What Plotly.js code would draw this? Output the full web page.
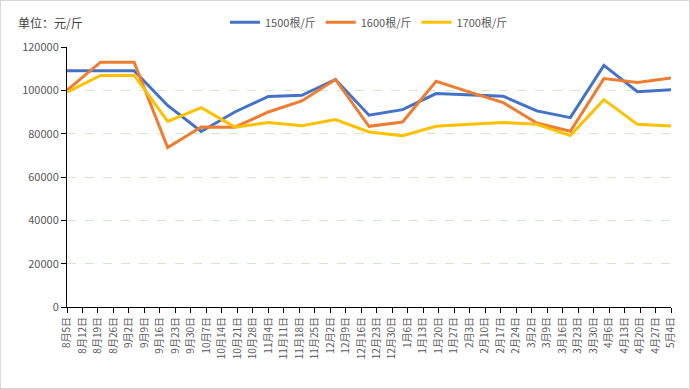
<!DOCTYPE html>
<html>
<head>
<meta charset="utf-8">
<script src="https://cdn.plot.ly/plotly-3.0.1.min.js"></script>
<style>
html,body{margin:0;padding:0;background:#fff;}
#chart{width:688px;height:387px;border:1px solid #d9d9d9;}
</style>
</head>
<body>
<div id="chart"></div>
<script>
var tickLabels = ["8月5日","8月12日","8月19日","8月26日","9月2日","9月9日","9月16日","9月23日","9月30日","10月7日","10月14日","10月21日","10月28日","11月4日","11月11日","11月18日","11月25日","12月2日","12月9日","12月16日","12月23日","12月30日","1月6日","1月13日","1月20日","1月27日","2月3日","2月10日","2月17日","2月24日","3月2日","3月9日","3月16日","3月23日","3月30日","4月6日","4月13日","4月20日","4月27日","5月4日"];
var sampleIdx = [0,1,2,3,4,5,6,7,8,9,10,11,12,13,14,15,16,17,18];
var s1500 = [109000,109000,109000,93000,81000,90000,97200,97700,105000,88500,91100,98500,98000,97300,90500,87400,111500,99400,100300];
var s1600 = [100000,113000,113000,73600,83100,83000,90000,95100,105000,83400,85400,104200,99200,94300,84900,81100,105400,103600,105700];
var s1700 = [99200,106900,107000,85700,92000,83000,85100,83700,86500,80800,79100,83400,84300,85200,84300,79100,95700,84300,83500];
var names = ["1500根/斤","1600根/斤","1700根/斤"];
var colors = ["#4472C4","#ED7D31","#FFC000"];

var font = "'Noto Sans CJK SC', 'Noto Sans', sans-serif";
var series = [s1500, s1600, s1700];
var traces = series.map(function(s, k){
  return {x: sampleIdx, y: s, name: names[k], type: 'scatter', mode: 'lines',
    xaxis: 'x2', line: {color: colors[k], width: 3}};
});
// invisible trace to anchor category axis labels
traces.push({x: tickLabels, y: tickLabels.map(function(){return null;}), type:'scatter', mode:'lines', showlegend:false, hoverinfo:'skip', xaxis:'x'});

var layout = {
  width: 688, height: 387,
  margin: {l: 66, r: 18, t: 46, b: 81, autoexpand: false},
  paper_bgcolor: '#fff', plot_bgcolor: '#fff',
  font: {family: font, color: '#595959', size: 10},
  showlegend: true,
  legend: {orientation: 'h', x: 0.5, xanchor: 'center', y: 1.095, yanchor: 'middle',
    font: {size: 11, color: '#595959'}, itemwidth: 30},
  xaxis: {type: 'category', categoryorder: 'array', categoryarray: tickLabels,
    range: [0, tickLabels.length - 1], tickangle: -90, showgrid: false,
    showline: true, linecolor: '#000', linewidth: 1, ticks: 'outside', ticklen: 5,
    tickcolor: '#000', tickfont: {size: 10, color: '#595959'}, zeroline: false, fixedrange: true},
  xaxis2: {overlaying: 'x', range: [0, sampleIdx.length - 1], visible: false, showgrid: false, zeroline: false},
  yaxis: {range: [0, 120000], dtick: 20000, showgrid: true, gridcolor: '#d6e6cc', griddash: 'dash',
    gridwidth: 1, showline: true, linecolor: '#000', linewidth: 1, ticks: 'outside', ticklen: 5,
    tickcolor: '#000', tickfont: {size: 11, color: '#595959'}, zeroline: false, tickformat: 'd'},
  annotations: [{text: '单位：元/斤', xref: 'paper', yref: 'paper', x: -0.085, y: 1.095,
    xanchor: 'left', yanchor: 'middle', showarrow: false, font: {size: 12, color: '#404040'}}]
};
Plotly.newPlot('chart', traces, layout, {displayModeBar: false, staticPlot: true});
</script>
</body>
</html>
